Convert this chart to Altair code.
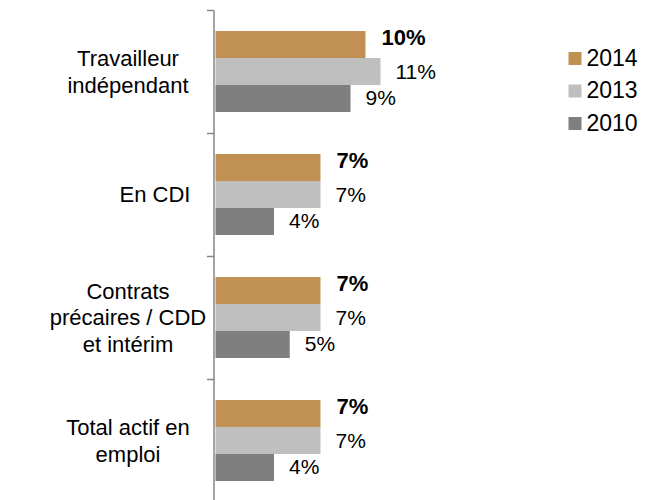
import altair as alt
import pandas as pd

categories = ["Travailleur|indépendant", "En CDI", "Contrats|précaires / CDD|et intérim", "Total actif en|emploi"]
years = ["2014", "2013", "2010"]
v2014 = [0.100, 0.070, 0.070, 0.070]
v2013 = [0.110, 0.070, 0.070, 0.070]
v2010 = [0.090, 0.039, 0.0495, 0.039]
colors = ["#C19153", "#BFBFBF", "#7F7F7F"]

rows = []
for yr, vals in zip(years, [v2014, v2013, v2010]):
    for c, v in zip(categories, vals):
        rows.append({"cat": c, "year": yr, "value": v})
df = pd.DataFrame(rows)

FONT = "Liberation Sans"
nlines = "length(split(datum.label, '|'))"

y_axis = alt.Axis(
    title=None,
    domainColor="#868686", domainWidth=1.5,
    tickColor="#868686", tickWidth=1.5, tickSize=7, tickBand="extent",
    labelAlign="center", labelBaseline="middle",
    labelFont=FONT, labelFontSize=22, labelColor="black",
    labelLineHeight=26.5, labelExpr="split(datum.label, '|')",
    labelPadding={"condition": {"test": "datum.value == 'En CDI'", "value": 52}, "value": 79},
    labelOffset={"condition": [
        {"test": nlines + " == 3", "value": -26.5},
        {"test": nlines + " == 2", "value": -13},
    ], "value": 0},
    labelLimit=300,
    offset=2,
)

base = alt.Chart(df).encode(
    y=alt.Y("cat:N", sort=categories,
            scale=alt.Scale(paddingInner=0, paddingOuter=0), axis=y_axis),
    yOffset=alt.YOffset("year:N", sort=years, scale=alt.Scale(paddingInner=0, paddingOuter=0.778)),
    x=alt.X("value:Q", scale=alt.Scale(domain=[0, 0.2]), axis=None),
)

bars = base.mark_bar().encode(
    color=alt.Color("year:N", sort=years,
                    scale=alt.Scale(domain=years, range=colors),
                    legend=alt.Legend(title=None, orient="none", legendX=348, legendY=37,
                                      symbolType="square", symbolSize=169, symbolStrokeWidth=0,
                                      labelFont=FONT, labelFontSize=23, labelColor="black",
                                      rowPadding=8.5, labelOffset=0, padding=0))
)

lab14 = base.transform_filter(alt.datum.year == "2014").mark_text(
    align="left", baseline="middle", dx=16, dy=-7, font=FONT, fontSize=22,
    fontWeight="bold", color="black"
).encode(text=alt.Text("value:Q", format=".0%"))

lab_other = base.transform_filter(alt.datum.year != "2014").mark_text(
    align="left", baseline="middle", dx=15, dy=1, font=FONT, fontSize=21, color="black"
).encode(text=alt.Text("value:Q", format=".0%"))

chart = alt.layer(bars, lab14, lab_other).properties(
    width=300, height=492,
    autosize=alt.AutoSizeParams(type="none"),
    padding={"top": 2, "left": 207.5, "right": 125, "bottom": 0},
).configure_view(stroke=None)

chart.save("out.html", embed_options={"renderer": "svg", "actions": False})
